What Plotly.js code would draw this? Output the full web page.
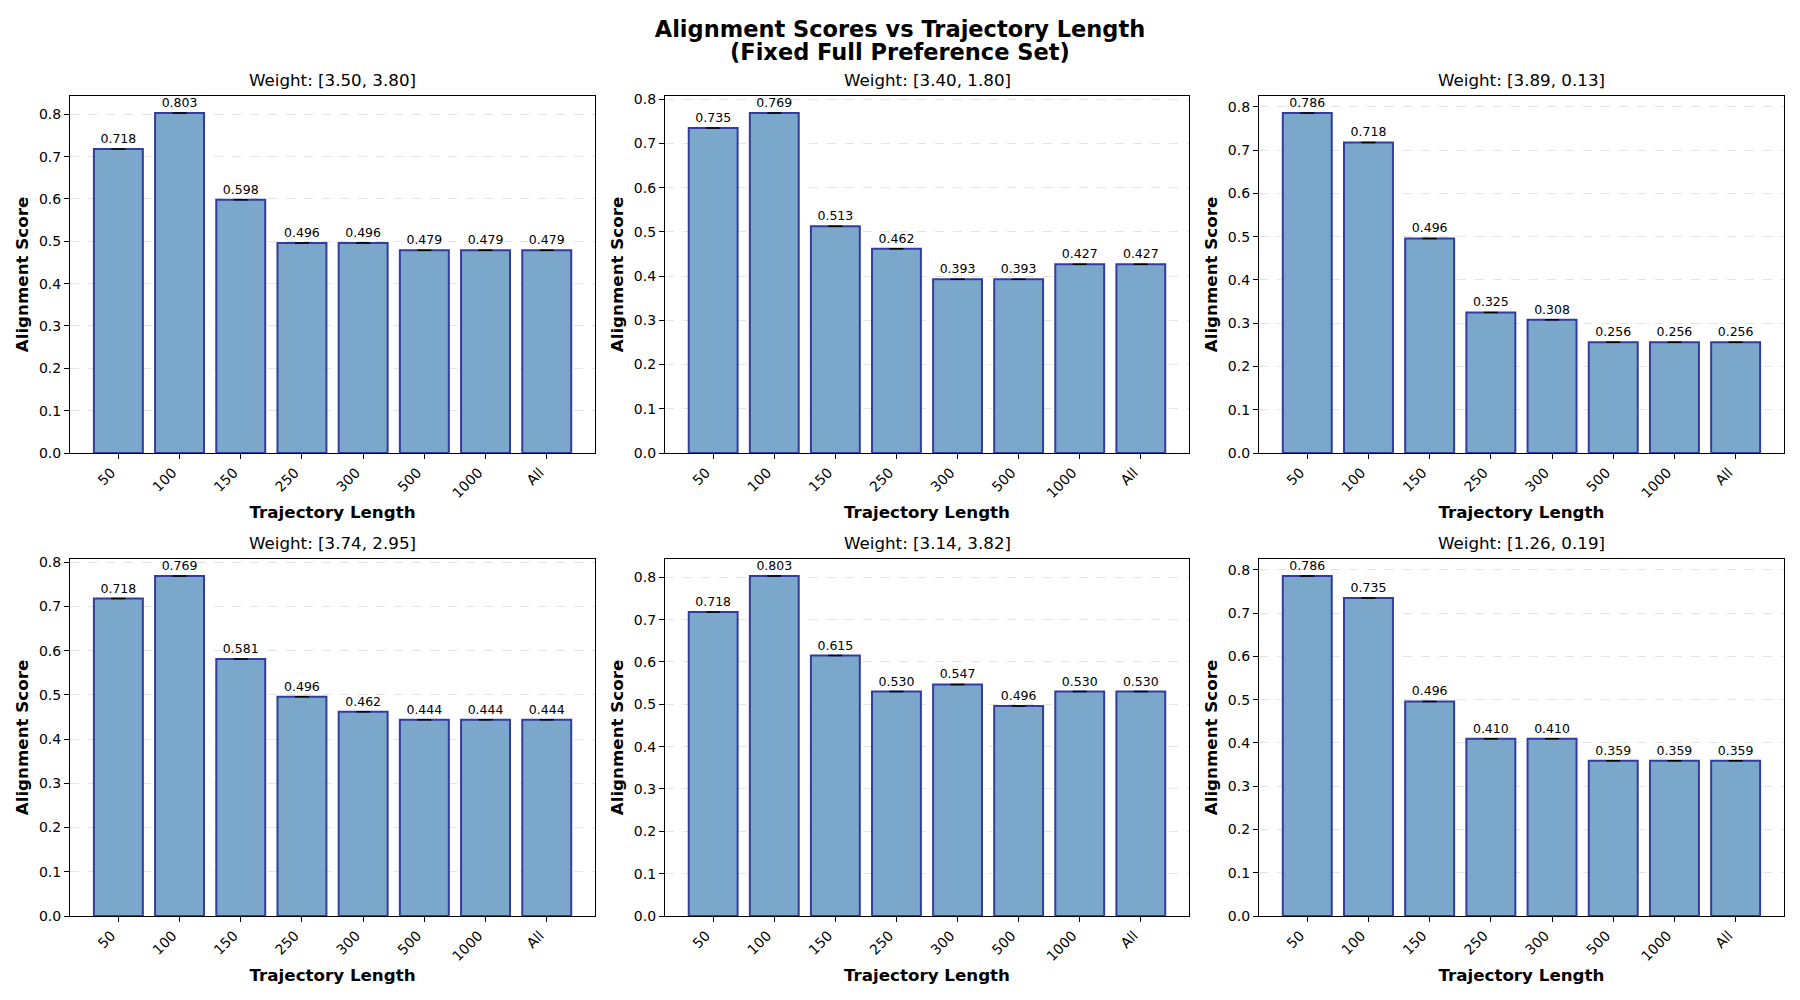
<!DOCTYPE html>
<html>
<head>
<meta charset="utf-8">
<script src="https://cdn.plot.ly/plotly-3.0.1.min.js"></script>
<style>html,body{margin:0;padding:0;background:#fff;}#chart{width:1800px;height:1000px;}</style>
</head>
<body>
<div id="chart"></div>
<script>
const categories = ["50", "100", "150", "250", "300", "500", "1000", "All"];
const panelTitles = [
  "Weight: [3.50, 3.80]",
  "Weight: [3.40, 1.80]",
  "Weight: [3.89, 0.13]",
  "Weight: [3.74, 2.95]",
  "Weight: [3.14, 3.82]",
  "Weight: [1.26, 0.19]"
];
const scores1 = [0.718, 0.803, 0.598, 0.496, 0.496, 0.479, 0.479, 0.479];
const scores2 = [0.735, 0.769, 0.513, 0.462, 0.393, 0.393, 0.427, 0.427];
const scores3 = [0.786, 0.718, 0.496, 0.325, 0.308, 0.256, 0.256, 0.256];
const scores4 = [0.718, 0.769, 0.581, 0.496, 0.462, 0.444, 0.444, 0.444];
const scores5 = [0.718, 0.803, 0.615, 0.530, 0.547, 0.496, 0.530, 0.530];
const scores6 = [0.786, 0.735, 0.496, 0.410, 0.410, 0.359, 0.359, 0.359];
const errors = [0, 0, 0, 0, 0, 0, 0, 0];

const allScores = [scores1, scores2, scores3, scores4, scores5, scores6];
const FONT = "DejaVu Sans, Liberation Sans, sans-serif";

const colDomains = [[0.0389, 0.3306], [0.3694, 0.6606], [0.6994, 0.9911]];
const rowDomains = [[0.547, 0.904], [0.084, 0.441]];

const traces = [];
const layout = {
  width: 1800, height: 1000,
  margin: {l: 0, r: 0, t: 0, b: 0},
  paper_bgcolor: "#ffffff",
  plot_bgcolor: "#ffffff",
  showlegend: false,
  font: {family: FONT, color: "#000000", size: 14},
  title: {
    text: "<b>Alignment Scores vs Trajectory Length</b>",
    x: 0.5, xanchor: "center",
    y: 0.971, yanchor: "middle", yref: "container",
    font: {family: FONT, size: 22.5, color: "#000000"}
  },
  annotations: [{
    text: "<b>(Fixed Full Preference Set)</b>",
    xref: "paper", yref: "paper",
    x: 0.5, y: 0.948, xanchor: "center", yanchor: "middle",
    showarrow: false,
    font: {family: FONT, size: 22.5, color: "#000000"}
  }],
  bargap: 0.2
};

allScores.forEach(function(vals, i) {
  const n = i + 1;
  const xa = "x" + (n === 1 ? "" : n);
  const ya = "y" + (n === 1 ? "" : n);
  const row = Math.floor(i / 3), col = i % 3;
  traces.push({
    type: "bar",
    x: categories,
    y: vals,
    xaxis: xa, yaxis: ya,
    width: 0.8,
    marker: {color: "#7ba7cb", line: {color: "#323c9e", width: 2}},
    text: vals.map(v => v.toFixed(3)),
    textposition: "outside",
    textfont: {family: FONT, size: 12.5, color: "#000000"},
    cliponaxis: false,
    error_y: {type: "data", array: errors, visible: true, color: "#000000", thickness: 1.5, width: 7},
    hoverinfo: "x+y"
  });
  const ymax = Math.max.apply(null, vals) * 1.05;
  layout["xaxis" + (n === 1 ? "" : n)] = {
    domain: colDomains[col],
    anchor: ya,
    type: "category",
    range: [-0.79, 7.79],
    tickangle: -45,
    ticklabelshift: -7,
    ticks: "outside", ticklen: 5, tickwidth: 1, tickcolor: "#000000",
    showline: true, linecolor: "#000000", linewidth: 1, mirror: true,
    showgrid: false, zeroline: false,
    tickfont: {family: FONT, size: 14, color: "#000000"},
    title: {text: "<b>Trajectory Length</b>", standoff: 6, font: {family: FONT, size: 16.7, color: "#000000"}},
    automargin: false
  };
  layout["yaxis" + (n === 1 ? "" : n)] = {
    domain: rowDomains[row],
    anchor: xa,
    range: [0, ymax],
    dtick: 0.1,
    tickformat: ".1f",
    ticks: "outside", ticklen: 5, tickwidth: 1, tickcolor: "#000000",
    showline: true, linecolor: "#000000", linewidth: 1, mirror: true,
    showgrid: true, gridcolor: "rgba(176,176,176,0.35)", griddash: "dash", gridwidth: 1,
    zeroline: false,
    tickfont: {family: FONT, size: 14, color: "#000000"},
    title: {text: "<b>Alignment Score</b>", standoff: 6, font: {family: FONT, size: 16.7, color: "#000000"}},
    automargin: false
  };
  layout.annotations.push({
    text: panelTitles[i],
    xref: "paper", yref: "paper",
    x: (colDomains[col][0] + colDomains[col][1]) / 2,
    y: rowDomains[row][1] + 0.004,
    xanchor: "center", yanchor: "bottom",
    showarrow: false,
    font: {family: FONT, size: 16.7, color: "#000000"}
  });
});

Plotly.newPlot("chart", traces, layout, {displayModeBar: false, staticPlot: true});
</script>
</body>
</html>
